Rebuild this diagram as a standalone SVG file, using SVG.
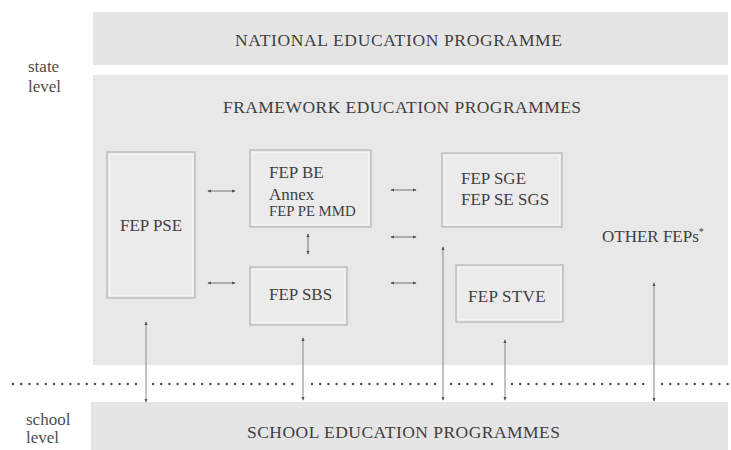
<svg xmlns="http://www.w3.org/2000/svg" width="731" height="450" viewBox="0 0 731 450">
  <defs>
    <style>
      .band { fill: #e5e5e5; }
      .panel { fill: #e8e8e8; }
      .box { fill: #ebebeb; stroke: #bdbdbd; stroke-width: 1.5; }
      .box-in { fill: none; stroke: #f4f4f4; stroke-width: 1; }
      text { font-family: "Liberation Serif", "Times New Roman", serif; fill: #3f3f3f; }
      .title { font-size: 17.5px; text-anchor: middle; }
      .label { font-size: 17px; }
      .small { font-size: 14.8px; }
      .side { font-size: 17px; fill: #4d4d4d; }
      .link { stroke: #777; stroke-width: 1; fill: none; marker-start: url(#tip); marker-end: url(#tip); }
      .drop { stroke: #888; stroke-width: 1; fill: none; marker-start: url(#tip); marker-end: url(#tip); }
      .dots { stroke: #4a4a4a; stroke-width: 2.4; stroke-linecap: round; stroke-dasharray: 0 8.2; fill: none; }
    </style>
    <marker id="tip" viewBox="0 0 6 6" refX="5" refY="3" markerWidth="4" markerHeight="4" markerUnits="userSpaceOnUse" orient="auto-start-reverse">
      <path d="M0,0.5 L6,3 L0,5.5 z" fill="#555"/>
    </marker>
  </defs>

  <rect width="731" height="450" fill="#ffffff"/>

  <!-- level captions -->
  <text class="side" x="28" y="72">state</text>
  <text class="side" x="28" y="92">level</text>
  <text class="side" x="26" y="425">school</text>
  <text class="side" x="26" y="443">level</text>

  <!-- national programme band -->
  <g id="national">
    <rect class="band" x="93" y="12" width="635" height="53"/>
    <text class="title" x="398.5" y="45.5" textLength="327" lengthAdjust="spacing">NATIONAL EDUCATION PROGRAMME</text>
  </g>

  <!-- framework programmes panel -->
  <g id="framework">
    <rect class="panel" x="93" y="75" width="635" height="290"/>
    <text class="title" x="402" y="112.5" textLength="358" lengthAdjust="spacing">FRAMEWORK EDUCATION PROGRAMMES</text>
  </g>

  <!-- school programmes band -->
  <g id="school">
    <rect class="band" x="91" y="402" width="637" height="48"/>
    <text class="title" x="403.5" y="438" textLength="313" lengthAdjust="spacing">SCHOOL EDUCATION PROGRAMMES</text>
  </g>

  <g id="fep-pse">
    <rect class="box" x="107" y="152" width="88" height="146"/>
    <rect class="box-in" x="109.5" y="154.5" width="83" height="141"/>
    <text class="label" x="120" y="231">FEP PSE</text>
  </g>

  <g id="fep-be">
    <rect class="box" x="250" y="150" width="121" height="77"/>
    <rect class="box-in" x="252.5" y="152.5" width="116" height="72"/>
    <text class="label" x="269" y="178">FEP BE</text>
    <text class="label" x="269" y="199.5">Annex</text>
    <text class="label small" x="269" y="216">FEP PE MMD</text>
  </g>

  <g id="fep-sbs">
    <rect class="box" x="250" y="267" width="97" height="58"/>
    <rect class="box-in" x="252.5" y="269.5" width="92" height="53"/>
    <text class="label" x="269" y="300">FEP SBS</text>
  </g>

  <g id="fep-sge">
    <rect class="box" x="442" y="153" width="120" height="74"/>
    <rect class="box-in" x="444.5" y="155.5" width="115" height="69"/>
    <text class="label" x="461" y="184">FEP SGE</text>
    <text class="label" x="461" y="205">FEP SE SGS</text>
  </g>

  <g id="fep-stve">
    <rect class="box" x="456" y="265" width="107" height="57"/>
    <rect class="box-in" x="458.5" y="267.5" width="102" height="52"/>
    <text class="label" x="468" y="302" letter-spacing="0.3">FEP STVE</text>
  </g>

  <g id="other-feps">
    <text class="label" x="602" y="242">OTHER FEPs<tspan font-size="10" dy="-7">*</tspan></text>
  </g>

  <!-- boundary between state and school level -->
  <g id="boundary">
    <path class="dots" d="M13,384 H138 M153,384 H297 M312,384 H437 M451,384 H498 M512,384 H647 M662,384 H728"/>
  </g>

  <g id="connectors">
    <!-- links between framework programmes -->
    <line class="link" x1="208" y1="191" x2="235" y2="191"/>
    <line class="link" x1="208" y1="283" x2="235" y2="283"/>
    <line class="link" x1="308" y1="234" x2="308" y2="254"/>
    <line class="link" x1="391" y1="190" x2="416" y2="190"/>
    <line class="link" x1="391" y1="237" x2="416" y2="237"/>
    <line class="link" x1="391" y1="283" x2="416" y2="283"/>
    <!-- links down to school programmes -->
    <line class="drop" x1="146" y1="322" x2="146" y2="402"/>
    <line class="drop" x1="303" y1="338" x2="303" y2="400"/>
    <line class="drop" x1="443" y1="247" x2="443" y2="400"/>
    <line class="drop" x1="505" y1="340" x2="505" y2="400"/>
    <line class="drop" x1="654" y1="283" x2="654" y2="401"/>
  </g>
</svg>
